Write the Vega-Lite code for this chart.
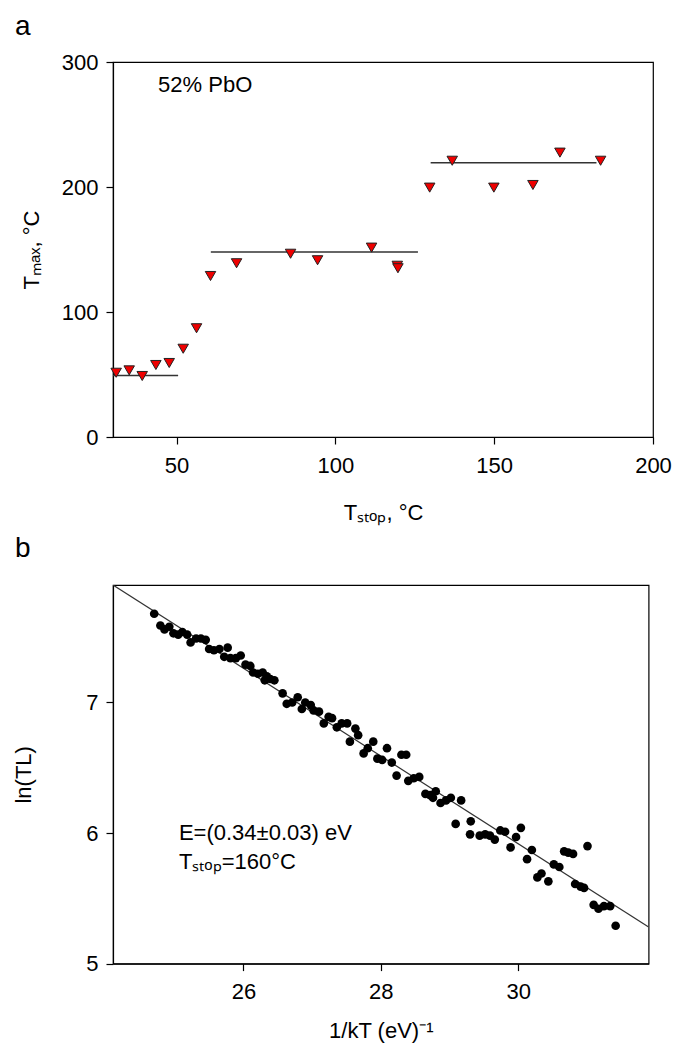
{
  "$schema": "https://vega.github.io/schema/vega-lite/v6.json",
  "autosize": {"type": "none"},
  "padding": {"left": 113, "top": 62, "right": 562, "bottom": 981},
  "background": "white",
  "spacing": 148,
  "bounds": "flush",
  "config": {
    "font": "Liberation Sans",
    "view": {"stroke": "black", "strokeWidth": 1.2},
    "axis": {
      "grid": false, "domainColor": "black", "domainWidth": 1.2, "tickColor": "black", "tickWidth": 1.2,
      "tickSize": 7, "labelColor": "black", "titleColor": "black",
      "labelFont": "Liberation Sans", "titleFont": "Liberation Sans",
      "labelFontSize": 22, "titleFontSize": 22, "titleFontWeight": "normal",
      "labelPadding": 8, "labelFlush": false, "labelOverlap": false
    },
    "axisX": {"labelPadding": 11},
    "title": {"font": "Liberation Sans", "fontSize": 28, "fontWeight": "normal", "color": "black", "anchor": "start", "frame": "group", "baseline": "alphabetic"}
  },
  "vconcat": [
    {
      "width": 540,
      "height": 375,
      "title": {"text": "a", "dx": -98, "offset": 10},
      "layer": [
        {
          "data": {"values": [
            {"x": 30, "x2": 50.5, "y": 49.3},
            {"x": 60.8, "x2": 126, "y": 148},
            {"x": 130, "x2": 182.2, "y": 219.5}
          ]},
          "mark": {"type": "rule", "color": "#333333", "strokeWidth": 1.5},
          "encoding": {
            "x": {"field": "x", "type": "quantitative", "scale": {"domain": [30, 200], "nice": false, "zero": false},
                  "axis": {"values": [50, 100, 150, 200], "title": "Tₛₜₒₚ, °C", "titlePadding": 26}},
            "x2": {"field": "x2"},
            "y": {"field": "y", "type": "quantitative", "scale": {"domain": [0, 300], "nice": false},
                  "axis": {"values": [0, 100, 200, 300], "title": "Tₘₐₓ, °C", "titlePadding": 18}}
          }
        },
        {
          "data": {"values": [
            {"T": 31.0, "Tmax": 51.4}, {"T": 35.1, "Tmax": 53.3}, {"T": 39.2, "Tmax": 48.8},
            {"T": 43.5, "Tmax": 57.6}, {"T": 47.7, "Tmax": 59.2}, {"T": 52.1, "Tmax": 70.6},
            {"T": 56.3, "Tmax": 87.0}, {"T": 60.7, "Tmax": 128.8}, {"T": 68.9, "Tmax": 139.0},
            {"T": 85.9, "Tmax": 146.6}, {"T": 94.4, "Tmax": 141.4}, {"T": 111.4, "Tmax": 151.5},
            {"T": 119.5, "Tmax": 137.0}, {"T": 119.7, "Tmax": 135.0}, {"T": 129.7, "Tmax": 199.5},
            {"T": 136.8, "Tmax": 221.0}, {"T": 149.9, "Tmax": 199.5}, {"T": 162.2, "Tmax": 201.6},
            {"T": 170.7, "Tmax": 227.5}, {"T": 183.5, "Tmax": 221.0}
          ]},
          "mark": {"type": "point", "shape": "triangle-down", "filled": true, "size": 110, "fill": "#ee0000", "stroke": "#222222", "strokeWidth": 1, "opacity": 1},
          "encoding": {
            "x": {"field": "T", "type": "quantitative"},
            "y": {"field": "Tmax", "type": "quantitative"}
          }
        },
        {
          "data": {"values": [{"x": 44.2, "y": 281.4, "label": "52% PbO"}]},
          "mark": {"type": "text", "align": "left", "baseline": "middle", "fontSize": 22, "color": "black"},
          "encoding": {
            "x": {"field": "x", "type": "quantitative"},
            "y": {"field": "y", "type": "quantitative"},
            "text": {"field": "label"}
          }
        }
      ]
    },
    {
      "width": 535.6,
      "height": 378.6,
      "title": {"text": "b", "dx": -98, "offset": 22},
      "layer": [
        {
          "data": {"values": [{"x": 24.1, "y": 7.9}, {"x": 31.9, "y": 5.28}]},
          "mark": {"type": "line", "color": "#333333", "strokeWidth": 1.2, "clip": true},
          "encoding": {
            "x": {"field": "x", "type": "quantitative", "scale": {"domain": [24.1, 31.9], "nice": false, "zero": false},
                  "axis": {"values": [26, 28, 30], "format": "d", "title": "1/kT (eV)⁻¹", "titlePadding": 18}},
            "y": {"field": "y", "type": "quantitative", "scale": {"domain": [5, 7.9], "nice": false, "zero": false},
                  "axis": {"values": [5, 6, 7], "format": "d", "title": "ln(TL)", "titlePadding": 50}}
          }
        },
        {
          "data": {"values": [
            {"x": 24.70, "y": 7.68}, {"x": 24.79, "y": 7.59}, {"x": 24.85, "y": 7.56}, {"x": 24.92, "y": 7.58},
            {"x": 24.98, "y": 7.53}, {"x": 25.05, "y": 7.52}, {"x": 25.11, "y": 7.54}, {"x": 25.18, "y": 7.52},
            {"x": 25.23, "y": 7.46}, {"x": 25.31, "y": 7.49}, {"x": 25.38, "y": 7.49}, {"x": 25.45, "y": 7.48},
            {"x": 25.50, "y": 7.41}, {"x": 25.57, "y": 7.40}, {"x": 25.65, "y": 7.41}, {"x": 25.77, "y": 7.42},
            {"x": 25.72, "y": 7.35}, {"x": 25.81, "y": 7.34}, {"x": 25.89, "y": 7.34}, {"x": 25.96, "y": 7.36},
            {"x": 26.03, "y": 7.29}, {"x": 26.10, "y": 7.28}, {"x": 26.14, "y": 7.23}, {"x": 26.21, "y": 7.22},
            {"x": 26.28, "y": 7.23}, {"x": 26.34, "y": 7.20}, {"x": 26.31, "y": 7.17}, {"x": 26.39, "y": 7.18},
            {"x": 26.45, "y": 7.17}, {"x": 26.57, "y": 7.07}, {"x": 26.63, "y": 6.99}, {"x": 26.71, "y": 7.00},
            {"x": 26.79, "y": 7.04}, {"x": 26.85, "y": 6.95}, {"x": 26.90, "y": 7.00}, {"x": 26.98, "y": 6.98},
            {"x": 27.02, "y": 6.94}, {"x": 27.10, "y": 6.93}, {"x": 27.17, "y": 6.84}, {"x": 27.24, "y": 6.89},
            {"x": 27.29, "y": 6.88}, {"x": 27.36, "y": 6.81}, {"x": 27.43, "y": 6.84}, {"x": 27.51, "y": 6.84},
            {"x": 27.55, "y": 6.70}, {"x": 27.63, "y": 6.80}, {"x": 27.67, "y": 6.75}, {"x": 27.75, "y": 6.61},
            {"x": 27.81, "y": 6.65}, {"x": 27.89, "y": 6.70}, {"x": 27.95, "y": 6.57}, {"x": 28.02, "y": 6.56},
            {"x": 28.09, "y": 6.65}, {"x": 28.16, "y": 6.54}, {"x": 28.23, "y": 6.44}, {"x": 28.30, "y": 6.60},
            {"x": 28.37, "y": 6.60}, {"x": 28.40, "y": 6.40}, {"x": 28.48, "y": 6.42}, {"x": 28.56, "y": 6.43},
            {"x": 28.65, "y": 6.30}, {"x": 28.72, "y": 6.29}, {"x": 28.80, "y": 6.32}, {"x": 28.76, "y": 6.27},
            {"x": 28.87, "y": 6.23}, {"x": 28.95, "y": 6.25}, {"x": 29.02, "y": 6.27}, {"x": 29.17, "y": 6.25},
            {"x": 29.09, "y": 6.07}, {"x": 29.31, "y": 6.09}, {"x": 29.30, "y": 5.99}, {"x": 29.44, "y": 5.98},
            {"x": 29.52, "y": 5.99}, {"x": 29.59, "y": 5.98}, {"x": 29.66, "y": 5.95}, {"x": 29.74, "y": 6.02},
            {"x": 29.81, "y": 6.01}, {"x": 29.89, "y": 5.89}, {"x": 29.97, "y": 5.97}, {"x": 30.04, "y": 6.04},
            {"x": 30.13, "y": 5.80}, {"x": 30.20, "y": 5.87}, {"x": 30.28, "y": 5.66}, {"x": 30.34, "y": 5.69},
            {"x": 30.44, "y": 5.63}, {"x": 30.52, "y": 5.76}, {"x": 30.60, "y": 5.74}, {"x": 30.67, "y": 5.86},
            {"x": 30.73, "y": 5.85}, {"x": 30.80, "y": 5.84}, {"x": 31.01, "y": 5.90}, {"x": 30.83, "y": 5.61},
            {"x": 30.91, "y": 5.59}, {"x": 30.96, "y": 5.58}, {"x": 31.10, "y": 5.45}, {"x": 31.17, "y": 5.42},
            {"x": 31.25, "y": 5.44}, {"x": 31.34, "y": 5.44}, {"x": 31.42, "y": 5.29}
          ]},
          "mark": {"type": "circle", "size": 75, "color": "black", "opacity": 1},
          "encoding": {
            "x": {"field": "x", "type": "quantitative"},
            "y": {"field": "y", "type": "quantitative"}
          }
        },
        {
          "data": {"values": [
            {"x": 25.06, "y": 6.0, "label": "E=(0.34±0.03) eV"},
            {"x": 25.06, "y": 5.78, "label": "Tₛₜₒₚ=160°C"}
          ]},
          "mark": {"type": "text", "align": "left", "baseline": "middle", "fontSize": 22, "color": "black"},
          "encoding": {
            "x": {"field": "x", "type": "quantitative"},
            "y": {"field": "y", "type": "quantitative"},
            "text": {"field": "label"}
          }
        }
      ]
    }
  ]
}
